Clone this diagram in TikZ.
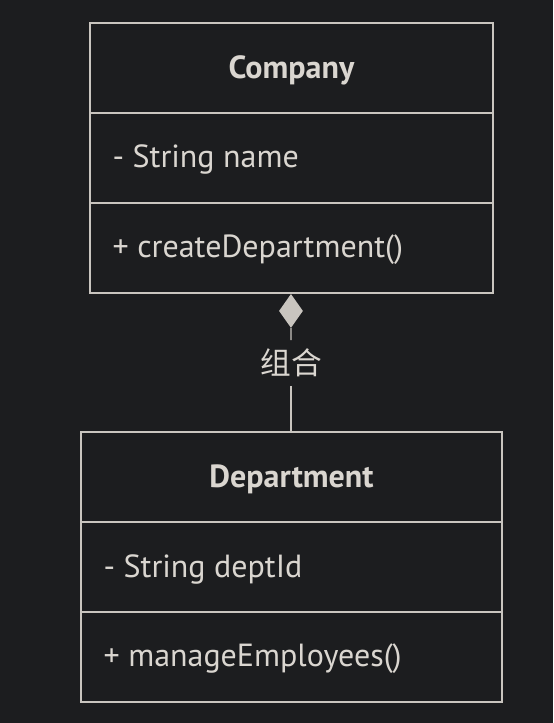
\documentclass[tikz,border=0pt]{standalone}
\usepackage{fontspec}
\setmainfont{PT Sans}
\newfontfamily\cjkfont{Noto Sans CJK SC}
\usetikzlibrary{positioning, shapes.geometric}

\definecolor{bgcol}{HTML}{1C1D1F}
\definecolor{linecol}{HTML}{C9C5BF}
\definecolor{textcol}{HTML}{DAD6D0}

\tikzset{
  compart/.style={draw=linecol, line width=1pt, minimum height=67.5pt, inner sep=0pt},
  member/.style={text=textcol, font=\fontsize{24}{28}\selectfont, anchor=west, inner sep=0pt},
  title/.style={text=textcol, font=\fontsize{24}{28}\selectfont\bfseries, inner sep=0pt}
}

\begin{document}
\begin{tikzpicture}[x=0.75pt, y=-0.75pt]
    % Background
    \fill[bgcol] (0, 0) rectangle (553, 723);
    \useasboundingbox (0, 0) rectangle (553, 723);
    % Class Company
    \foreach \y/\n in {68/comptop, 158/compmid, 248/compbot}{
      \node[compart, minimum width=302.25pt] (\n) at (291.5, \y) {};
    }
    \node[title] (compname) at ([yshift=-1.5pt]comptop) {Company};
    \node[member] (compattr) at ([xshift=17.25pt, yshift=-1.5pt]compmid.west) {- String name};
    \node[member] (compop) at ([xshift=17.25pt, yshift=-1.5pt]compbot.west) {+ createDepartment()};
    % Class Department
    \foreach \y/\n in {477/depttop, 567/deptmid, 657/deptbot}{
      \node[compart, minimum width=315.75pt] (\n) at (291.5, \y) {};
    }
    \node[title] (deptname) at ([yshift=-1.5pt]depttop) {Department};
    \node[member] (deptattr) at ([xshift=17.25pt, yshift=-1.5pt]deptmid.west) {- String deptId};
    \node[member] (deptop) at ([xshift=17.25pt, yshift=-1.5pt]deptbot.west) {+ manageEmployees()};
    % Composition
    \node[diamond, fill=linecol, inner sep=0pt, minimum width=18pt, minimum height=25.5pt,
      anchor=north] (dia) at ([xshift=-0.4pt]compbot.south) {};
    \node[text=textcol, font=\cjkfont\fontsize{23}{27}\selectfont, minimum height=33.75pt,
      inner sep=0pt] (rel) at (291, 363) {组合};
    \draw[linecol, line width=1pt] (dia.south) -- (rel.north);
    \draw[linecol, line width=1pt] (rel.south) -- (rel.south |- depttop.north);
\end{tikzpicture}
\end{document}
